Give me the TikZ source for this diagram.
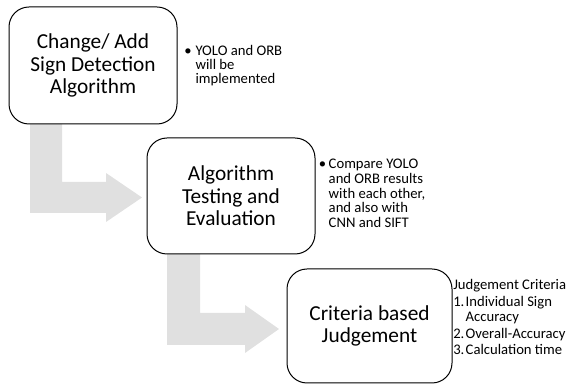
\documentclass[tikz,border=0pt]{standalone}
\usepackage{fontspec}
\setmainfont{Carlito}
\usetikzlibrary{positioning}
\definecolor{arrowgray}{RGB}{224,224,224}
\tikzset{
  stagebox/.style={draw, line width=0.75pt, rounded corners=15pt, fill=white,
    align=center, inner sep=0pt, font=\fontsize{16}{17}\selectfont},
  notetext/.style={anchor=base west, inner sep=0pt, align=left,
    font=\fontsize{11}{11}\selectfont},
  bentarrow/.style={fill=arrowgray, draw=none}
}
\begin{document}
\begin{tikzpicture}[x=0.75pt,y=-0.75pt]
  \useasboundingbox (0,0) rectangle (568,384);
  % bent arrows behind the boxes
  \fill[bentarrow] (30,124) -- (62,124) -- (62,182) -- (106,182) -- (106,173) -- (142,197.5)
    -- (106,222) -- (106,213) -- (30,213) -- cycle;
  \fill[bentarrow] (167,254) -- (200,254) -- (200,313) -- (245,313) -- (245,305) -- (279,329)
    -- (245,353) -- (245,345) -- (167,345) -- cycle;
  % stages
  \node[stagebox, minimum width=126pt, minimum height=87.75pt] (change) at (93,65.5)
    {Change/ Add\\Sign Detection\\Algorithm};
  \node[stagebox, minimum width=126pt, minimum height=87pt] (testing) at (231,196)
    {Algorithm\\Testing and\\Evaluation};
  \node[stagebox, minimum width=123.75pt, minimum height=85.5pt] (judge) at (369.5,326)
    {Criteria based\\Judgement};
  % notes
  \node[notetext] (changenote) at (184,56) {\begin{tabular}[t]{@{}l@{\hspace{3pt}}l@{}}
    \textbullet & YOLO and ORB\\[-0.5pt] & will be\\[-0.5pt] & implemented\end{tabular}};
  \node[notetext] (testnote) at (318.5,169) {\begin{tabular}[t]{@{}l@{\hspace{2pt}}l@{}}
    \textbullet & Compare YOLO\\ & and ORB results\\ & with each other,\\ & and also with\\
    & CNN and SIFT\end{tabular}};
  \node[notetext] (judgenote) at (453,290) {\begin{tabular}[t]{@{}l@{\hspace{1pt}}l@{}}
    \multicolumn{2}{@{}l@{}}{Judgement Criteria}\\[1.5pt]
    1. & Individual Sign\\ & Accuracy\\[2pt]
    2. & Overall-Accuracy\\[1pt]
    3. & Calculation time\end{tabular}};
\end{tikzpicture}
\end{document}
